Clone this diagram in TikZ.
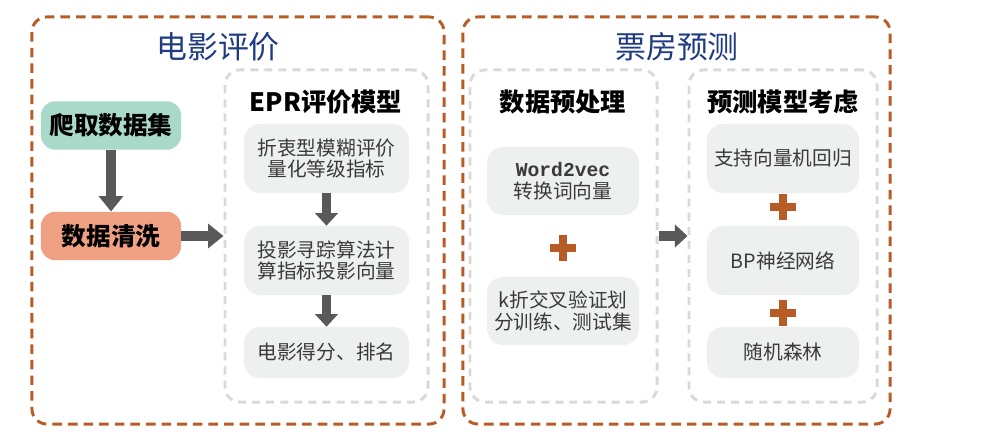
\documentclass[tikz,border=0pt]{standalone}
\usepackage{fontspec}
\setmainfont{Noto Sans CJK SC}
\newfontfamily\codefont{Liberation Mono}
\usetikzlibrary{arrows.meta}
\definecolor{frameorange}{HTML}{B85C27}
\definecolor{titlenavy}{HTML}{1F3B82}
\definecolor{mintfill}{HTML}{A9D9C9}
\definecolor{salmonfill}{HTML}{F1A183}
\definecolor{boxgray}{HTML}{EEF0EF}
\definecolor{dashgray}{HTML}{D9D9D9}
\definecolor{arrowgray}{HTML}{595959}
\definecolor{textgray}{HTML}{3A3A3A}
\begin{document}
\begin{tikzpicture}[x=0.025cm, y=-0.025cm,
    bigframe/.style={draw=frameorange, line width=2.1pt, dash pattern=on 6.8pt off 4.3pt,
        rounded corners=0.375cm, minimum height=10.175cm, inner sep=0pt},
    subframe/.style={draw=dashgray, line width=2.1pt, dash pattern=on 5.7pt off 4.3pt,
        rounded corners=0.375cm, minimum height=8.3cm, inner sep=0pt},
    headline/.style={text=titlenavy, font=\fontsize{22}{26}\selectfont},
    subhead/.style={font=\bfseries\fontsize{18}{21}\selectfont},
    colorbox/.style={rounded corners=0.35cm, minimum width=3.5cm, minimum height=1.21cm,
        font=\bfseries\fontsize{17.5}{20}\selectfont},
    stepbox/.style={fill=boxgray, rounded corners=0.4cm, align=center, text=textgray,
        font=\fontsize{14}{15.5}\selectfont, minimum height=1.725cm},
    bigarrow/.style={draw=arrowgray, line width=7.6pt,
        -{Triangle[width=17pt, length=11pt]}},
    midarrow/.style={draw=arrowgray, line width=6.6pt,
        -{Triangle[width=16pt, length=9pt]}},
    plus/.style={minimum size=19pt, inner sep=0pt, path picture={
        \fill[frameorange] ([xshift=-9.5pt, yshift=-2.8pt]path picture bounding box.center) rectangle ++(19pt,5.6pt);
        \fill[frameorange] ([xshift=-2.8pt, yshift=-9.5pt]path picture bounding box.center) rectangle ++(5.6pt,19pt);}}]

\useasboundingbox (0,0) rectangle (1004,444);

% 两个大框
\node[bigframe, minimum width=10.3cm]   (evalframe) at (238,220.5) {};
\node[bigframe, minimum width=10.675cm] (boxframe)  at (676.5,220.5) {};
\node[headline] (evaltitle) at (218,47) {电影评价};
\node[headline] (boxtitle)  at (677,47) {票房预测};

% 虚线子框
\node[subframe, minimum width=5.075cm] (epr)   at (326.5,236) {};
\node[subframe, minimum width=4.675cm] (prep)  at (563.5,236) {};
\node[subframe, minimum width=4.7cm]   (model) at (783,236) {};
\node[subhead] (eprtitle)   at (326,102) {EPR评价模型};
\node[subhead] (preptitle)  at (563,102) {数据预处理};
\node[subhead] (modeltitle) at (783,102) {预测模型考虑};

% 电影评价
\node[colorbox, fill=mintfill]   (crawl) at (111,125.5) {爬取数据集};
\node[colorbox, fill=salmonfill] (clean) at (111,236)   {数据清洗};
\node[stepbox, minimum width=4.125cm] (fuzzy)  at (326.5,158.5) {折衷型模糊评价\\量化等级指标};
\node[stepbox, minimum width=4.125cm] (pursuit) at (326.5,260.5) {投影寻踪算法计\\算指标投影向量};
\node[stepbox, minimum width=4.125cm, minimum height=1.275cm] (rank) at (326.5,352.5) {电影得分、排名};

% 票房预测
\node[stepbox, minimum width=3.8cm, minimum height=1.7cm] (wordvec) at (563,181) {{\codefont\bfseries Word2vec}\\转换词向量};
\node[stepbox, minimum width=3.8cm, minimum height=1.7cm] (kfold)   at (563,311) {k折交叉验证划\\分训练、测试集};
\node[stepbox, minimum width=3.8cm] (svr)    at (783,158.5) {支持向量机回归};
\node[stepbox, minimum width=3.8cm] (bpnet)  at (783,260.5) {BP神经网络};
\node[stepbox, minimum width=3.8cm, minimum height=1.275cm] (forest) at (783,352.5) {随机森林};

% 加号
\node[plus] (plusa) at (563,248) {};
\node[plus] (plusb) at (783,207) {};
\node[plus] (plusc) at (783,313) {};

% 箭头
\draw[bigarrow] (crawl) -- (clean);
\draw[bigarrow] (clean) -- (epr);
\draw[midarrow] (fuzzy) -- (pursuit);
\draw[midarrow] (pursuit) -- (rank);
\draw[midarrow] (prep) -- (model);

\end{tikzpicture}
\end{document}
